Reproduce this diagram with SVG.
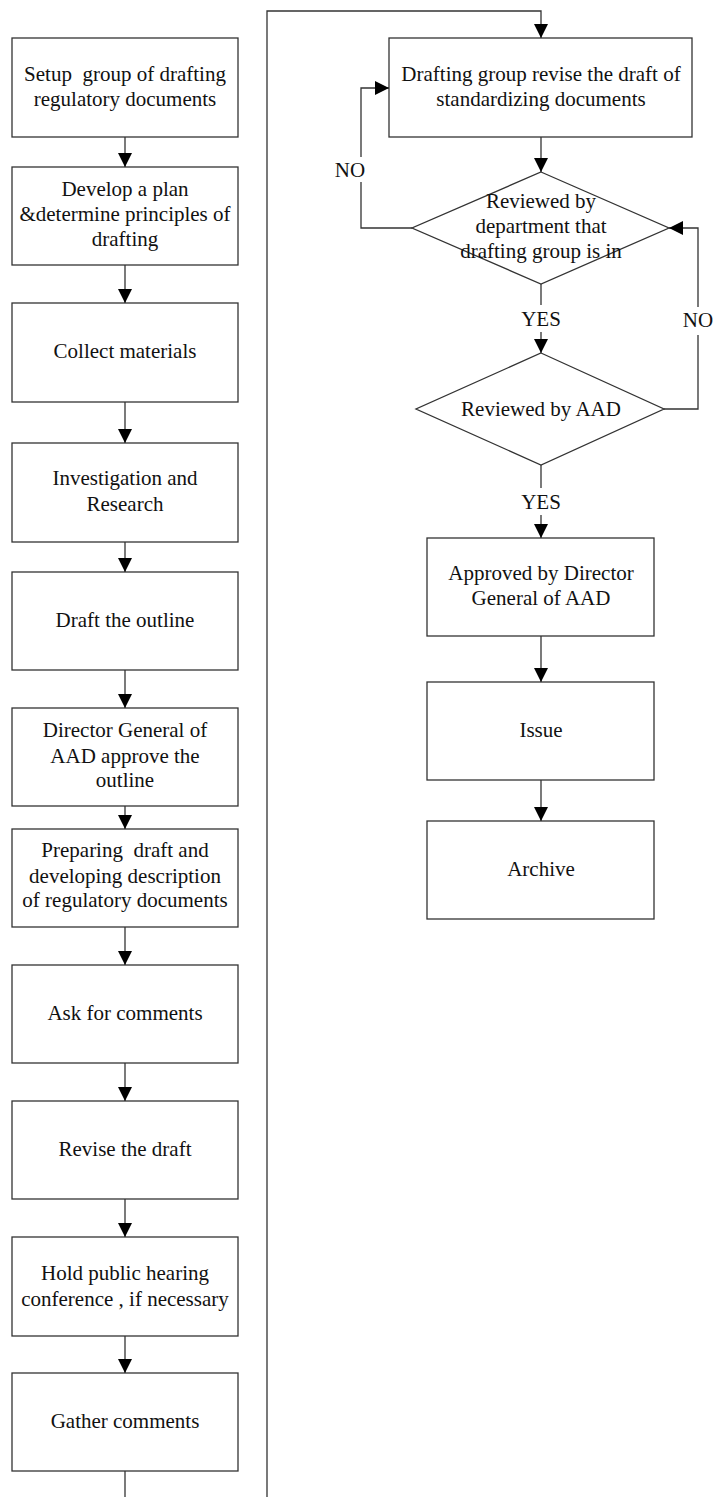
<svg xmlns="http://www.w3.org/2000/svg" width="713" height="1497" viewBox="0 0 713 1497">
<style>
.n rect, .n polygon { fill: #fff; stroke: #333; stroke-width: 1.3; }
text { font-family: "Liberation Serif", "Times New Roman", serif; font-size: 21px; fill: #111; text-anchor: middle; }
.c path { fill: none; stroke: #333; stroke-width: 1.3; }
</style>
<defs>
<marker id="ah" markerUnits="userSpaceOnUse" markerWidth="14" markerHeight="14" viewBox="0 0 14 14" refX="14" refY="7" orient="auto">
<path d="M0,0 L14,7 L0,14 z" fill="#000"/>
</marker>
</defs>
<rect width="713" height="1497" fill="#fff"/>
<g id="n1" class="n"><rect x="12" y="38" width="226" height="99"/><text x="125" y="81" xml:space="preserve">Setup  group of drafting</text><text x="125" y="106">regulatory documents</text></g>
<g id="n2" class="n"><rect x="12" y="167" width="226" height="98"/><text x="125" y="196">Develop a plan</text><text x="125" y="221">&amp;determine principles of</text><text x="125" y="246">drafting</text></g>
<g id="n3" class="n"><rect x="12" y="303" width="226" height="99"/><text x="125" y="358">Collect materials</text></g>
<g id="n4" class="n"><rect x="12" y="443" width="226" height="99"/><text x="125" y="485">Investigation and</text><text x="125" y="511">Research</text></g>
<g id="n5" class="n"><rect x="12" y="572" width="226" height="98"/><text x="125" y="627">Draft the outline</text></g>
<g id="n6" class="n"><rect x="12" y="708" width="226" height="98"/><text x="125" y="737">Director General of</text><text x="125" y="763">AAD approve the</text><text x="125" y="787">outline</text></g>
<g id="n7" class="n"><rect x="12" y="829" width="226" height="98"/><text x="125" y="857" xml:space="preserve">Preparing  draft and</text><text x="125" y="883">developing description</text><text x="125" y="907">of regulatory documents</text></g>
<g id="n8" class="n"><rect x="12" y="965" width="226" height="98"/><text x="125" y="1020">Ask for comments</text></g>
<g id="n9" class="n"><rect x="12" y="1101" width="226" height="98"/><text x="125" y="1156">Revise the draft</text></g>
<g id="n10" class="n"><rect x="12" y="1237" width="226" height="99"/><text x="125" y="1280">Hold public hearing</text><text x="125" y="1306">conference , if necessary</text></g>
<g id="n11" class="n"><rect x="12" y="1373" width="226" height="98"/><text x="125" y="1428">Gather comments</text></g>
<g id="r1" class="n"><rect x="389" y="38" width="303" height="99"/><text x="541" y="81">Drafting group revise the draft of</text><text x="541" y="106">standardizing documents</text></g>
<g id="d1" class="n"><polygon points="541,172 669,228 541,284 412,228"/><text x="541" y="208">Reviewed by</text><text x="541" y="233">department that</text><text x="541" y="258">drafting group is in</text></g>
<g id="d2" class="n"><polygon points="541,353 664,409 541,465 416,409"/><text x="541" y="416">Reviewed by AAD</text></g>
<g id="r2" class="n"><rect x="427" y="538" width="227" height="98"/><text x="541" y="580">Approved by Director</text><text x="541" y="605">General of AAD</text></g>
<g id="r3" class="n"><rect x="427" y="682" width="227" height="98"/><text x="541" y="737">Issue</text></g>
<g id="r4" class="n"><rect x="427" y="821" width="227" height="98"/><text x="541" y="876">Archive</text></g>
<g id="connectors" class="c">
<path d="M125,137 V167" marker-end="url(#ah)"/>
<path d="M125,265 V303" marker-end="url(#ah)"/>
<path d="M125,402 V443" marker-end="url(#ah)"/>
<path d="M125,542 V572" marker-end="url(#ah)"/>
<path d="M125,670 V708" marker-end="url(#ah)"/>
<path d="M125,806 V829" marker-end="url(#ah)"/>
<path d="M125,927 V965" marker-end="url(#ah)"/>
<path d="M125,1063 V1101" marker-end="url(#ah)"/>
<path d="M125,1199 V1237" marker-end="url(#ah)"/>
<path d="M125,1336 V1373" marker-end="url(#ah)"/>
<path d="M125,1471 V1497"/>
<path d="M267,1497 V11 H541 V38" marker-end="url(#ah)"/>
<path d="M541,137 V172" marker-end="url(#ah)"/>
<path d="M412,228 H361 V182"/>
<path d="M361,157 V88 H389" marker-end="url(#ah)"/>
<path d="M541,284 V305"/>
<path d="M541,332 V353" marker-end="url(#ah)"/>
<path d="M664,409 H698 V335"/>
<path d="M698,307 V228 H669" marker-end="url(#ah)"/>
<path d="M541,465 V488"/>
<path d="M541,515 V538" marker-end="url(#ah)"/>
<path d="M541,636 V682" marker-end="url(#ah)"/>
<path d="M541,780 V821" marker-end="url(#ah)"/>
<text x="350" y="177">NO</text>
<text x="698" y="327">NO</text>
<text x="541" y="326">YES</text>
<text x="541" y="509">YES</text>
</g>
</svg>
